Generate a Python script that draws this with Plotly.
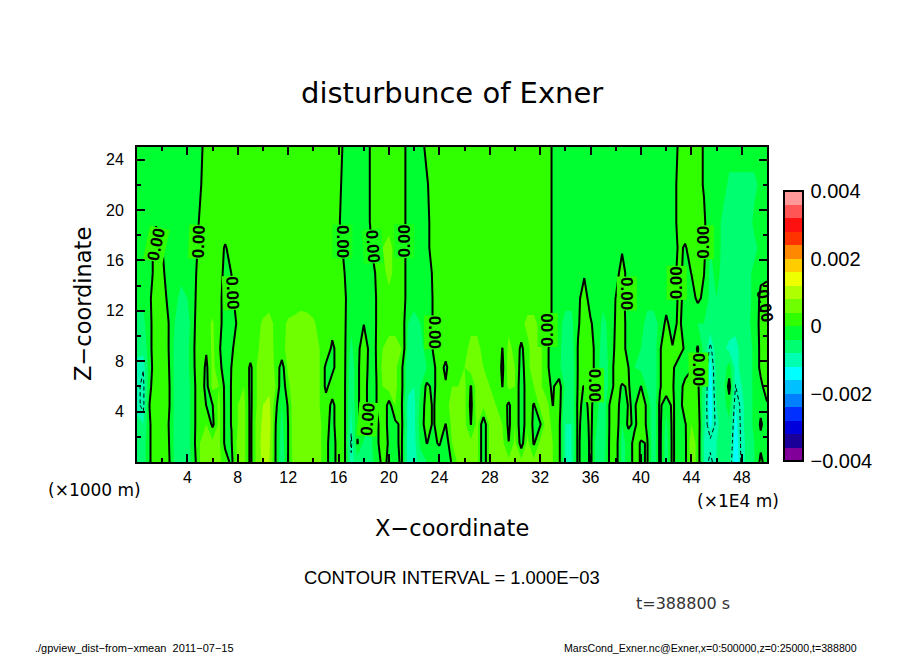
import numpy as np
import plotly.graph_objects as go

# x in units of 1E4 m, z in units of 1000 m, field values in units of 1E-4
x_coord = [i * 0.5 for i in range(101)]
z_coord = [0, 1.5, 3, 4.5, 6, 7.5, 9, 11, 13, 15, 17, 19, 22, 25]

row_00 = [-6,-6,-0.5,3,4,1,-5,-6,-6,-2,4,6,6,5,2,-1,5,5,-1,5,
          9,8,-0.1,-7,0.1,6,6,6,6,5,1,-2,2,0.2,-9,-6,-5,-5,-3,1.5,
          -1,-1,0.5,-9.5,-9.5,-6,-4,-3,-3,-3,0.5,5,5,5,5,-3,5,5,5,5,
          5,5,5,5,6,6,4,1,-8,-8,1,-3,1,-6,-6,0.5,2,-5,-3,2,
          -0.5,0.3,-7,1,-6,1,-3,-1,6,3,-8,-11,-8,-6,-7,-15,-9,-7,-4,1,
          -2]
row_15 = [-6,-6,-0.5,3,4,0.5,-5,-6,-6,-1,4,5,5,5,-1,-0.2,5,5,-1,5,
          10,9,-0.1,-6,0.1,7,7,6,6,5,1,-2,2,0.2,-11,0.3,-5,-5,-2,4,
          -1,-0.5,0.5,-9.5,-9.5,-3,0.1,-1,0.5,-3,4,5,5,5,5,-3,5,5,5,0.1,
          5,-2,5,-0.5,5,6,4,1,-8,-8,1,-3,1,-6,-7,0.5,2,-5,-3,2,
          -0.5,0.3,-7,1,-6,1,-3,-1,6,3,-8,-9,-8,-6,-6,-14,-9,-7,-4,-1,
          -2]
row_30 = [-7,-8,-0.5,3,4,0.1,-5,-6,-6,-1,3,4,-1,5,-1,0.1,4,5,-1,5,
          9,10,0.1,-5,0.1,7,7,7,6,5,1,-1,2,0.2,-9,-1,2,-5,-2,4,
          -2,-1,1,-9,-9,-2,2,-0.5,2,-0.1,5,5,5,-0.1,5,-3,5,5,4,-1,
          4,-3,3,-1,-0.5,6,3,1,-8,-8,1,-2,1,-4,-7,0.2,3,-4,1,-1,
          3,-1,-7,1,-5,1,-3,-0.5,4,3,-7,-13,-9,-6,-5,-13,-9,-6,-3,0.5,
          -2]
row_45 = [-9,-11,0.1,3,4,1,-5,-7,-6,-1,3,-0.1,-0.1,5,-1,0.1,4,5,-1,4,
          8,9,1,-4,0.5,7,7,7,6,4,2,-1,2,0.2,-8,-1,3,-3,-0.1,4,
          -2,4,0.5,-9,-9,-3,2,-0.5,2,3,5,5,5,-1,6,5,5,4,3,-1,
          4,-3,3,-0.5,5,6,-0.1,2,-7,-7,1,-1,1,-3,-7,0.2,3,-3,0.3,-0.5,
          3,-1,-7,1,-3,1,-3,3,4,2,-7,-14,-8,-6,-2,-12,-9,-6,-3,-1,
          -0.5]
row_60 = [-9,-11,-1,3,4,1,-5,-7,-6,-1,3,-1.5,5,4,-1,0.1,4,4,-1,4,
          7,7,4,-3,3,7,7,7,6,4,-1,2,2,0.2,-7,-1,3,-3,-0.1,4,
          6,5,1,-7,-8,-4,1,-1,2,0.5,4,4,5,-0.3,6,5,4,4,-0.1,5,
          4,-3,3,4,5,1,-0.5,2,-5,-7,0.5,-0.1,2,-2,-7,-3,2,-0.5,0.5,-3,
          0.1,-5,-7,-0.5,3,0.5,-3,2,3,1,-6,-14,-7,-6,1.5,-10.1,-8,-6,-3,-1,
          2]
row_75 = [-9,-9.8,-2,3,3,0.5,-5,-7,-5,-0.5,3,-1,5,2,-3,0.1,4,4,-1,4,
          6,7,3,-2,5,7,7,7,6,4,-1,-1,2,0.4,-7,-1,3,-2,0.1,5,
          5,5,1,-7,-7,-6,-4,-1,2,-1,3,4,4,6,6,4,4,4,-1,6,
          4,-2,3,6,5,1,-2,-3,-7,-7,0.3,4,2,-2,-7,-3,2,3,0.1,-4,
          -5,-7,-7,-0.5,3,1,-3,-3,-0.5,-1,-7,-13,-7,-7,-2,-9,-7,-6,-3,1,
          2]
row_90 = [-7,-7,-1.5,3.5,2,0.1,-5,-7,-5,-0.5,4,0.5,5,1,-4,-1,3,3,3,3,
          6,6,3,3,5,6,6,6,5,4,3,-1,2,0.4,-5,-1,2,-1,0.1,4,
          5,5,4,-5,-6,-5,-3,0.3,2,2,3,3,3,5,5,3,3,3,-0.1,5,
          3,-1,3,6,5,1,-2,-3,-6,-6,0.3,3,2,-2,-6,-3,1,3,-3,-3,
          -4,-6,-7,-0.5,3,0.3,3,-1,-3,0.5,-5,-11,-6,-7,-9,-9,-7,-6,-3,1,
          2]
row_110 = [-5,-5,-1.5,3.5,2,0.1,-4,-6,-6,-1,4,3,4.5,1.5,-2,-3,1,2,2,3,
           4.5,5.5,3,3,4.5,5,6,5.5,4.5,3,2,2,2,0.4,-3,-3,-0.1,-2,0.1,3,
           3,3,3,-4,-5,-4,-3,0.3,2,2,2,3,3,3,3,3,3,3,3,3,
           3,3,5,5,3,4,-1,-3,-5,-5,-0.5,2,0.5,-2,-5,-3,0.5,3,-3,-3,
           -3,-5,-6,-3,1,-2,1,-2,-3,-4,-4,-6,-5,-6,-6,-7,-6,-5,-2,1,
           2]
row_130 = [-3,-3,-1,4,2,-1,-3,-5,-4,-1.5,3.5,2,2,1.5,-2,-1,2,2,2,2,
           2,2,2,2,2,2,2,2,2,2,2,2,2,0.4,-2,-2,-2,-2,0.1,2,
           3,3,3,-2,-3,-3,-3,0.3,2,2,2,2,2,2,2,2,2,2,2,2,
           2,2,2,2,2,4,-1,-2,-3,-3,-1,2,-2,-3,-3,-2,0.1,2,-3,-2,
           -3,-3,-2,-2,-2,-4,1,-1,-2,1,-1,-5,-4,-6,-6,-7,-6,-5,-3,1,
           2]
row_150 = [-4,-3,-2,2,1,-2,-3,-3,-3,-2,3,2,2,3,-2,0.1,2,2,2,2,
           2,2,2,2,2,2,2,2,2,2,2,2,2,-0.1,-2,-2,-2,-4,1,3,
           5,3,3,-2,-2.5,-2,-4,1,2,2,2,2,2,2,2,2,2,2,2,2,
           2,2,2,2,2,4,-1,-2,-3,-3,-2,-0.5,-2,-2,-2,-2,-2,2,-2,-2,
           -2,-2,-2,-2,-2,-3,2,-2,0.1,2,0.1,-5,-3,-5,-6,-6,-6,-5,-3,-1,
           -1]
row_170 = [-2,-2,-3,3,0.1,-2,-2,-2,-2,-3,2,2,2,2,-0.5,2,2,2,2,2,
           2,2,2,2,2,2,2,2,2,2,2,2,3,-2,-2,-2,-2,-1,4,4,
           5,3,3,-2,-2,-2,-2,3,2,2,2,2,2,2,2,2,2,2,2,2,
           2,2,2,2,2,4,-1,-2,-2,-2,-2,-2,-2,-2,-2,-2,-2,-0.6,-2,-2,
           -2,-2,-2,-2,-2,-4,1,-0.5,2,2,1,-4,-2,-5,-6,-6,-6,-6,-5,-3,
           -2]
row_190 = [-2,-2,-2,-0.5,-2,-2,-2,-2,-2,-4,1,2,2,2,3,2,2,2,2,2,
           2,2,2,2,2,2,2,2,2,2,2,2,1,-4,-2,-2,-2,0.1,2,2,
           3,2,3,-2,-2,-2,-2,3,2,2,2,2,2,2,2,2,2,2,2,2,
           2,2,2,2,2,4,-1,-2,-2,-2,-2,-2,-2,-2,-2,-2,-2,-2,-2,-2,
           -2,-2,-2,-2,-2,-3,2,2.5,2,2,1,-4,-2,-5,-6,-6,-6,-6,-3,-2,
           -2]
row_220 = [-2,-2,-2,-2,-2,-2,-2,-2,-2,-2,-1,4,2,2,2,2,2,2,2,2,
           2,2,2,2,2,2,2,2,2,2,2,2,2,-3,-2,-2,-2,0.1,2,2,
           2,2,3,-2,-2,-2,-1,4,2,2,2,2,2,2,2,2,2,2,2,2,
           2,2,2,2,2,4,-1,-2,-2,-2,-2,-2,-2,-2,-2,-2,-2,-2,-2,-2,
           -2,-2,-2,-2,-2,-3,2,2,2,2,-0.5,-2,-2,-2,-5,-5,-5,-5,-5,-3,
           -2]
row_250 = [-2,-2,-2,-2,-2,-2,-2,-2,-2,-2,-2,3,2,2,2,2,2,2,2,2,
           2,2,2,2,2,2,2,2,2,2,2,2,3,-2,-2,-2,-2,0.1,2,2,
           2,2,3,-2,-2,-3,2,2,2,2,2,2,2,2,2,2,2,2,2,2,
           2,2,2,2,2,4,-1,-2,-2,-2,-2,-2,-2,-2,-2,-2,-2,-2,-2,-2,
           -2,-2,-2,-2,-2,-4,1,2,2,2,-0.5,-2,-2,-2,-2,-2,-2,-2,-2,-2,
           -2]

x_ticks = [4, 8, 12, 16, 20, 24, 28, 32, 36, 40, 44, 48]
z_ticks = [4, 8, 12, 16, 20, 24]
bar_ticks = [-0.004, -0.002, 0, 0.002, 0.004]
bar_labels = ["\u22120.004", "\u22120.002", "0", "0.002", "0.004"]

# one colour per contour band, bottom to top
band_colors = [
    "#800099", "#1a0099", "#0000dd", "#0030ff", "#0080ff",
    "#00c0ff", "#00ffff", "#00ffb0", "#00ff70", "#00ff30",
    "#30ff00", "#70ff00", "#b0ff00", "#eeff00", "#ffcc00",
    "#ff8800", "#ff3300", "#ff1010", "#ff5555", "#ff9999",
]

# contour labels: data position, rotation, background
line_labels = [
    (1.5, 17.3, -78, "#30ff00"), (4.9, 17.5, -88, "#30ff00"), (7.6, 13.4, 88, "#30ff00"),
    (16.3, 17.5, 90, "#18ff18"), (18.7, 17.1, 86, "#18ff18"), (21.2, 17.5, -90, "#18ff18"),
    (23.6, 10.3, 90, "#30ff00"), (18.3, 3.4, -85, "#30ff00"), (32.6, 10.5, -90, "#30ff00"),
    (36.3, 6.1, 90, "#30ff00"), (38.9, 13.4, 90, "#30ff00"), (42.8, 14.2, -90, "#30ff00"),
    (45.0, 17.4, -90, "#30ff00"), (44.6, 7.3, 90, "#30ff00"),
    (49.8, 12.4, 80, "rgba(0,0,0,0)"),
]

field = np.array([row_00, row_15, row_30, row_45, row_60, row_75, row_90, row_110,
                  row_130, row_150, row_170, row_190, row_220, row_250]) * 1e-4

colorscale = []
for i, c in enumerate(band_colors):
    colorscale += [[i / 20, c], [(i + 1) / 20, c]]

FONT = "Liberation Sans"
WIDE_FONT = "DejaVu Sans"

fig = go.Figure()
fig.add_trace(go.Contour(
    x=x_coord, y=z_coord, z=field,
    zmin=-0.004, zmax=0.004, colorscale=colorscale,
    autocontour=False,
    contours=dict(start=-0.004, end=0.004, size=0.0004, coloring="fill"),
    line=dict(width=0, smoothing=0),
    colorbar=dict(
        x=(784 - 137) / 630, xanchor="left", xpad=0, y=0.003, yanchor="bottom", ypad=0,
        lenmode="pixels", len=270, thicknessmode="pixels", thickness=19,
        outlinecolor="black", outlinewidth=2,
        ticks="outside", ticklen=3, tickcolor="rgba(0,0,0,0)",
        tickmode="array", tickvals=bar_ticks, ticktext=bar_labels,
        tickfont=dict(family=FONT, size=20, color="black"),
    ),
    hoverinfo="skip",
))
fig.add_trace(go.Contour(
    x=x_coord, y=z_coord, z=field, showscale=False, autocontour=False,
    contours=dict(start=0, end=0, size=1, coloring="none"),
    line=dict(color="black", width=2, smoothing=0), hoverinfo="skip",
))
fig.add_trace(go.Contour(
    x=x_coord, y=z_coord, z=field, showscale=False, autocontour=False,
    contours=dict(start=-0.001, end=-0.001, size=1, coloring="none"),
    line=dict(color="black", width=1, dash="4px,3px", smoothing=0), hoverinfo="skip",
))

for lx, lz, angle, bg in line_labels:
    fig.add_annotation(x=lx, y=lz, text="<b>0.00</b>", textangle=angle, showarrow=False,
                       bgcolor=bg, borderpad=0,
                       font=dict(family=FONT, size=17, color="black"))


def add_page_text(text, px, py, size, color="black", angle=0, family=FONT):
    # the margins are all page space, so work out paper coordinates from pixels
    fig.add_annotation(x=(px - 137) / 630, y=(462 - py) / 315, xref="paper", yref="paper",
                       xanchor="center", yanchor="middle",
                       text=text, showarrow=False, textangle=angle,
                       font=dict(family=family, size=size, color=color))


fig.update_layout(
    width=904, height=654, autosize=False, showlegend=False,
    paper_bgcolor="white", plot_bgcolor="white",
    margin=dict(l=137, r=137, t=147, b=192),
    font=dict(family=FONT, color="black"),
)
axis_style = dict(
    showline=True, linecolor="black", linewidth=2, mirror="allticks",
    ticks="inside", ticklen=8, tickwidth=1.5, tickcolor="black",
    minor=dict(ticks="inside", ticklen=4, tickwidth=1.5, tickcolor="black", dtick=2, tick0=0),
    showgrid=False, zeroline=False, tickfont=dict(family=FONT, size=16, color="black"),
    tickmode="array",
)
fig.update_xaxes(range=[0, 50], tickvals=x_ticks, ticktext=[str(t) for t in x_ticks],
                 **axis_style)
fig.update_yaxes(range=[0, 25], tickvals=z_ticks, ticktext=[str(t) for t in z_ticks],
                 ticklabelstandoff=8, **axis_style)

add_page_text("disturbunce of Exner", 452, 93, 29, family=WIDE_FONT)
add_page_text("X\u2212coordinate", 452, 528, 22.5, family=WIDE_FONT)
add_page_text("Z\u2212coordinate", 83, 304, 22.5, angle=-90, family=WIDE_FONT)
add_page_text("(\u00d71000 m)", 94, 490, 17, family=WIDE_FONT)
add_page_text("(\u00d71E4 m)", 738, 501, 17, family=WIDE_FONT)
add_page_text("CONTOUR INTERVAL = 1.000E\u221203", 452, 577, 18.4)
add_page_text("t=388800 s", 683, 603, 16, color="#333333", family=WIDE_FONT)
add_page_text("./gpview_dist\u2212from\u2212xmean\u00a0\u00a02011\u221207\u221215", 134, 648, 11)
add_page_text("MarsCond_Exner.nc@Exner,x=0:500000,z=0:25000,t=388800", 710, 648, 10.6)

fig.write_html("out.html", config={"displayModeBar": False},
               post_script="document.body.style.margin='0';")
